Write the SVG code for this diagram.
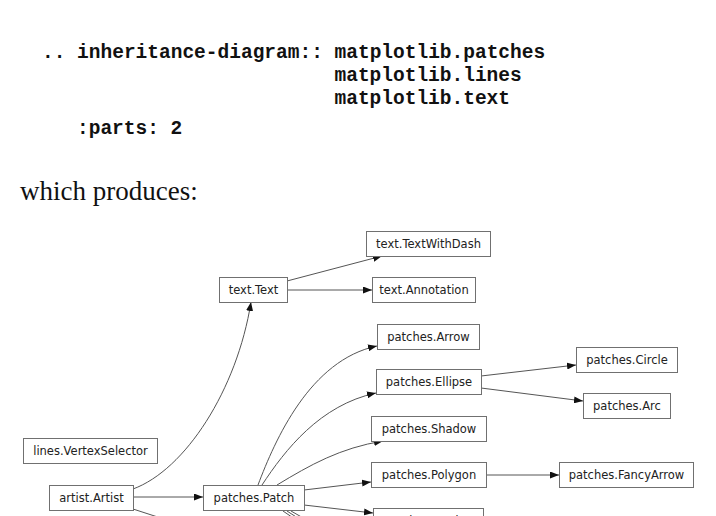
<svg xmlns="http://www.w3.org/2000/svg" width="716" height="516" viewBox="0 0 716 516">
<style>
.code{font-family:"Liberation Mono",monospace;font-weight:bold;font-size:19.5px;fill:#111}
.prose{font-family:"Liberation Serif",serif;font-size:27px;fill:#111}
.box{fill:#fff;stroke:#707070;stroke-width:1}
.lbl{font-family:"DejaVu Sans",sans-serif;font-size:11.5px;fill:#222;text-anchor:middle}
.edge{fill:none;stroke:#555;stroke-width:1}
</style>
<defs>
<marker id="arr" viewBox="0 0 9 7" refX="9" refY="3.5" markerWidth="9" markerHeight="7" markerUnits="userSpaceOnUse" orient="auto">
<path d="M0,0 L9,3.5 L0,7 z" fill="#111"/>
</marker>
</defs>
<rect width="716" height="516" fill="#fff"/>
<g id="header">
<text class="code" x="42" y="58" xml:space="preserve">.. inheritance-diagram:: matplotlib.patches</text>
<text class="code" x="334.5" y="81">matplotlib.lines</text>
<text class="code" x="334.5" y="104">matplotlib.text</text>
<text class="code" x="77" y="134">:parts: 2</text>
<text class="prose" x="20" y="200">which produces:</text>
</g>
<g id="connectors">
<path class="edge" marker-end="url(#arr)" d="M287,281 L382,256"/>
<path class="edge" marker-end="url(#arr)" d="M287,290 L372,290"/>
<path class="edge" marker-end="url(#arr)" d="M133,489 C185,470 237,390 251,302"/>
<path class="edge" marker-end="url(#arr)" d="M133,497 L203,497"/>
<path class="edge" d="M133,509 L170,521"/>
<path class="edge" marker-end="url(#arr)" d="M258,485 C275,440 310,360 377,346"/>
<path class="edge" marker-end="url(#arr)" d="M262,485 C285,450 320,405 376,393"/>
<path class="edge" marker-end="url(#arr)" d="M277,485 C310,465 340,448 383,441"/>
<path class="edge" marker-end="url(#arr)" d="M304,490 L371,482"/>
<path class="edge" marker-end="url(#arr)" d="M304,505 L373,513"/>
<path class="edge" d="M283,511 L302,524"/>
<path class="edge" d="M287,511 L307,524"/>
<path class="edge" d="M291,511 L312,523"/>
<path class="edge" marker-end="url(#arr)" d="M481,376 L576,365"/>
<path class="edge" marker-end="url(#arr)" d="M481,388 L583,401"/>
<path class="edge" marker-end="url(#arr)" d="M486,475 L559,475"/>
</g>
<g id="text.TextWithDash"><rect class="box" x="366.5" y="231.5" width="124" height="25"/><text class="lbl" x="428.5" y="248">text.TextWithDash</text></g>
<g id="text.Annotation"><rect class="box" x="372.5" y="277.5" width="103" height="25"/><text class="lbl" x="424" y="294">text.Annotation</text></g>
<g id="text.Text"><rect class="box" x="219.5" y="277.5" width="68" height="25"/><text class="lbl" x="253.5" y="294">text.Text</text></g>
<g id="patches.Arrow"><rect class="box" x="377.5" y="324.5" width="102" height="25"/><text class="lbl" x="428.5" y="341">patches.Arrow</text></g>
<g id="patches.Ellipse"><rect class="box" x="376.5" y="369.5" width="105" height="25"/><text class="lbl" x="429" y="386">patches.Ellipse</text></g>
<g id="patches.Circle"><rect class="box" x="576.5" y="347.5" width="101" height="25"/><text class="lbl" x="627" y="364">patches.Circle</text></g>
<g id="patches.Arc"><rect class="box" x="583.5" y="393.5" width="87" height="25"/><text class="lbl" x="627" y="410">patches.Arc</text></g>
<g id="patches.Shadow"><rect class="box" x="371.5" y="416.5" width="115" height="25"/><text class="lbl" x="429" y="433">patches.Shadow</text></g>
<g id="patches.Polygon"><rect class="box" x="371.5" y="462.5" width="115" height="25"/><text class="lbl" x="429" y="479">patches.Polygon</text></g>
<g id="patches.FancyArrow"><rect class="box" x="559.5" y="462.5" width="134" height="25"/><text class="lbl" x="626.5" y="479">patches.FancyArrow</text></g>
<g id="lines.VertexSelector"><rect class="box" x="23.5" y="438.5" width="134" height="25"/><text class="lbl" x="90.5" y="455">lines.VertexSelector</text></g>
<g id="artist.Artist"><rect class="box" x="49.5" y="485.5" width="84" height="25"/><text class="lbl" x="91.5" y="502">artist.Artist</text></g>
<g id="patches.Patch"><rect class="box" x="203.5" y="485.5" width="101" height="25"/><text class="lbl" x="254" y="502">patches.Patch</text></g>
<g id="patches.Wedge"><rect class="box" x="373.5" y="508.5" width="110" height="25"/><text class="lbl" x="428.5" y="525">patches.Wedge</text></g>
</svg>
